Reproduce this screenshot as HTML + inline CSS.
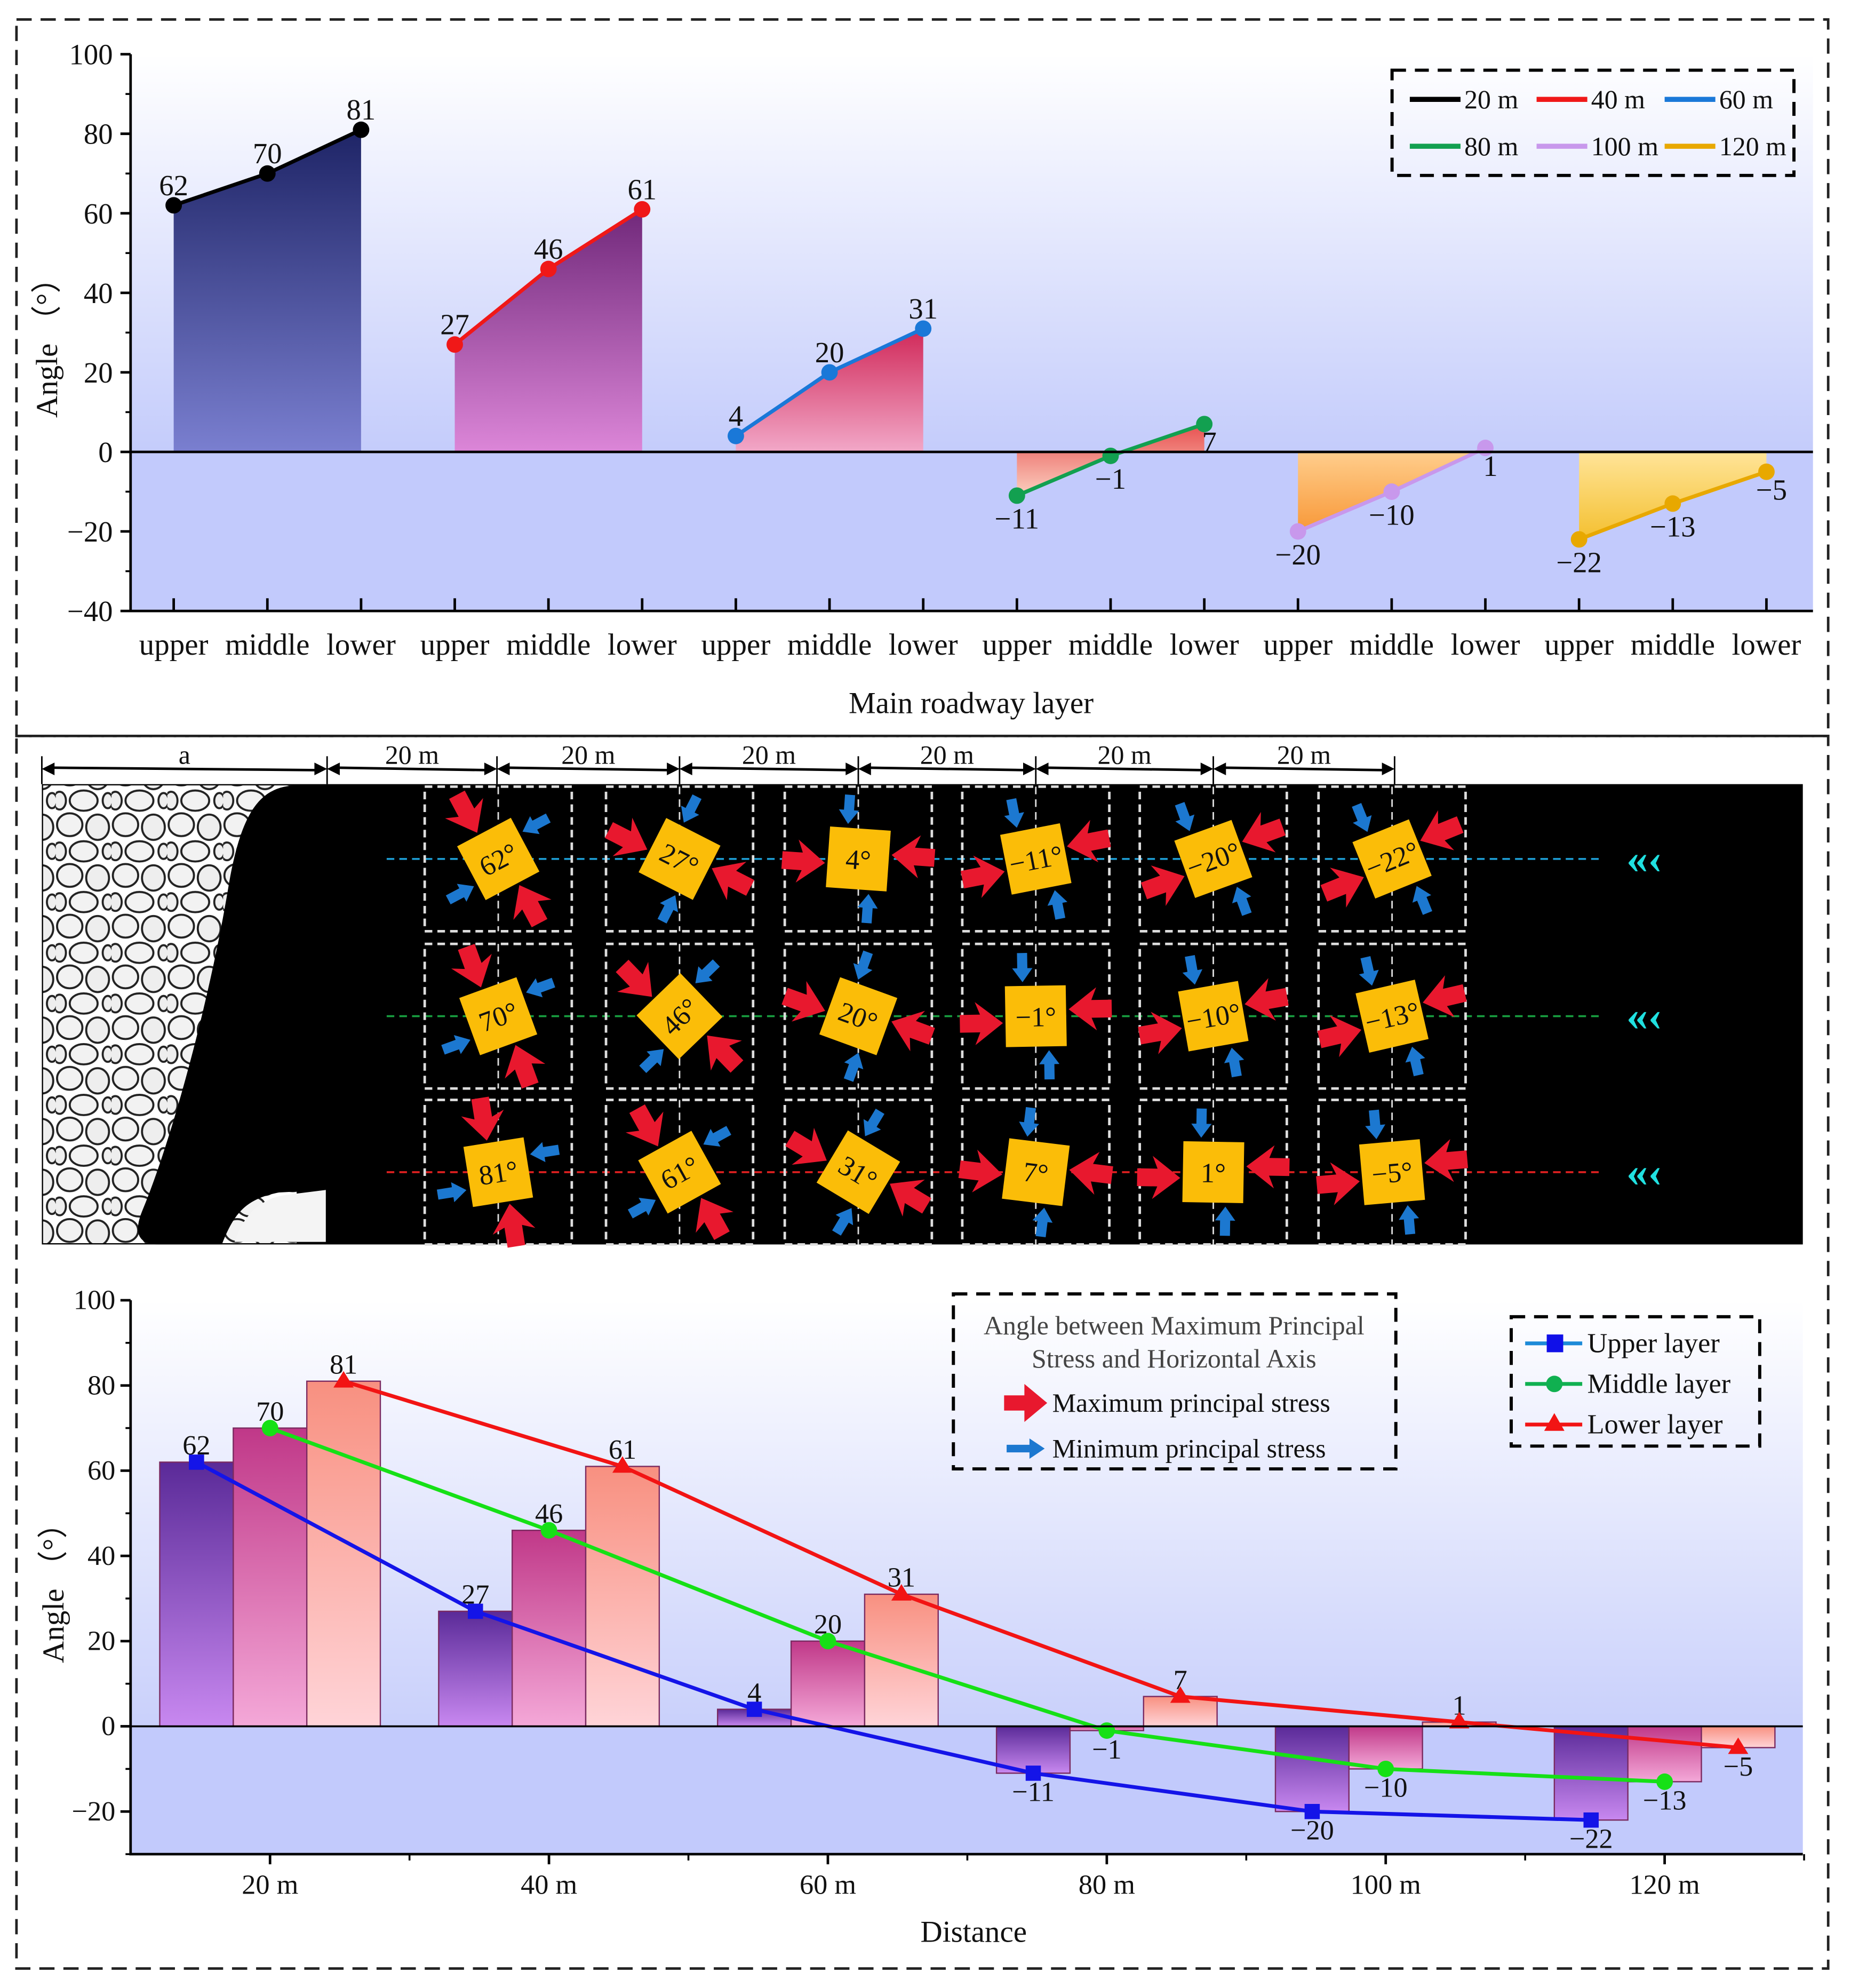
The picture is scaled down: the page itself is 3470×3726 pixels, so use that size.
<!DOCTYPE html>
<html><head><meta charset="utf-8">
<style>
html,body{margin:0;padding:0;background:#fff;}
svg{display:block;}
text{font-family:"Liberation Serif",serif;fill:#111;}
</style></head>
<body>
<svg id="fig" width="3470" height="3726" viewBox="0 0 1460 1567" xmlns="http://www.w3.org/2000/svg" font-family="Liberation Serif, serif">
<defs>
<linearGradient id="bgTop" x1="0" y1="0" x2="0" y2="1"><stop offset="0" stop-color="#ffffff"/><stop offset="1" stop-color="#c4ccfb"/></linearGradient>
<linearGradient id="bgBot" x1="0" y1="0" x2="0" y2="1"><stop offset="0" stop-color="#ffffff"/><stop offset="1" stop-color="#c9d0fb"/></linearGradient>
<linearGradient id="gA0" x1="0" y1="0" x2="0" y2="1"><stop offset="0" stop-color="#1e2466"/><stop offset="1" stop-color="#7a7fd0"/></linearGradient>
<linearGradient id="gA1" x1="0" y1="0" x2="0" y2="1"><stop offset="0" stop-color="#70287a"/><stop offset="1" stop-color="#dc86d8"/></linearGradient>
<linearGradient id="gA2" x1="0" y1="0" x2="0" y2="1"><stop offset="0" stop-color="#d02858"/><stop offset="1" stop-color="#f2a8c8"/></linearGradient>
<linearGradient id="gA3" x1="0" y1="0" x2="0" y2="1"><stop offset="0" stop-color="#e85050"/><stop offset="1" stop-color="#fbd0c0"/></linearGradient>
<linearGradient id="gA4" x1="0" y1="0" x2="0" y2="1"><stop offset="0" stop-color="#ffd090"/><stop offset="1" stop-color="#f89838"/></linearGradient>
<linearGradient id="gA5" x1="0" y1="0" x2="0" y2="1"><stop offset="0" stop-color="#ffe498"/><stop offset="1" stop-color="#f4c030"/></linearGradient>
<linearGradient id="gB0" x1="0" y1="0" x2="0" y2="1"><stop offset="0" stop-color="#5a2a98"/><stop offset="1" stop-color="#c888f0"/></linearGradient>
<linearGradient id="gB1" x1="0" y1="0" x2="0" y2="1"><stop offset="0" stop-color="#c03888"/><stop offset="1" stop-color="#f4a8d8"/></linearGradient>
<linearGradient id="gB2" x1="0" y1="0" x2="0" y2="1"><stop offset="0" stop-color="#f89080"/><stop offset="1" stop-color="#ffd4d8"/></linearGradient>
<pattern id="rubble" width="44" height="40" patternUnits="userSpaceOnUse">
<rect width="44" height="40" fill="#fff"/>
<ellipse cx="11" cy="10" rx="10" ry="9" fill="#f2f2f2" stroke="#222" stroke-width="1.6"/>
<ellipse cx="33" cy="12" rx="9" ry="10" fill="#eeeeee" stroke="#222" stroke-width="1.6"/>
<ellipse cx="22" cy="31" rx="11" ry="8" fill="#f2f2f2" stroke="#222" stroke-width="1.6"/>
<ellipse cx="3" cy="31" rx="5" ry="7" fill="#eeeeee" stroke="#222" stroke-width="1.6"/>
<ellipse cx="41" cy="31" rx="4" ry="6" fill="#eeeeee" stroke="#222" stroke-width="1.6"/>
</pattern>
</defs>

<rect x="13" y="15" width="1429" height="565" fill="none" stroke="#222" stroke-width="2" stroke-dasharray="12,7"/>
<rect x="13" y="580" width="1429" height="972" fill="none" stroke="#222" stroke-width="2" stroke-dasharray="12,7"/>

<g id="top"></g>
<g id="mid"></g>
<g id="bot"></g>
</svg>
<script>
const layers = ["upper","middle","lower"];
const distances = ["20 m","40 m","60 m","80 m","100 m","120 m"];
const upperVals  = [62, 27, 4, -11, -20, -22];
const middleVals = [70, 46, 20, -1, -10, -13];
const lowerVals  = [81, 61, 31, 7, 1, -5];
const topTicks = [100,80,60,40,20,0,-20,-40];
const botTicks = [100,80,60,40,20,0,-20];
const lineColors = ["#000000","#f01818","#1a78d8","#12a050","#c898ec","#e8a800"];

const NS="http://www.w3.org/2000/svg";
function el(parent,tag,attrs,txt){const e=document.createElementNS(NS,tag);for(const k in attrs)e.setAttribute(k,attrs[k]);if(txt!==undefined)e.textContent=txt;parent.appendChild(e);return e;}
const neg=s=>String(s).replace('-','\u2212');

// ---------- top chart ----------
const T=document.getElementById('top');
const tx0=103,tx1=1430,ty=v=>356-v*3.136;
const tX=i=>137+i*73.9;
let r=el(T,'rect',{x:tx0,y:ty(100),width:tx1-tx0,height:ty(0)-ty(100),fill:'url(#bgTop)'});


r=el(T,'rect',{x:tx0,y:ty(0),width:tx1-tx0,height:ty(-40)-ty(0),fill:'#c2cafc'});


for(let g=0;g<6;g++){
  const vals=[upperVals[g],middleVals[g],lowerVals[g]];
  const xs=[tX(g*3),tX(g*3+1),tX(g*3+2)];
  let d=`M${xs[0]},${ty(0)} `+xs.map((x,i)=>`L${x},${ty(vals[i])}`).join(' ')+` L${xs[2]},${ty(0)} Z`;
  const a=el(T,'path',{d:d,fill:`url(#gA${g})`});
  
  
  const l=el(T,'polyline',{points:xs.map((x,i)=>x+','+ty(vals[i])).join(' '),fill:'none',stroke:lineColors[g],'stroke-width':3});
  
  
  const isNeg=Math.min(...vals)<0;
  xs.forEach((x,i)=>{
    const c=el(T,'circle',{cx:x,cy:ty(vals[i]),r:6.5,fill:lineColors[g]});
    
    
    let lx=x,ly=isNeg?ty(vals[i])+26:ty(vals[i])-8;
    if(isNeg&&i==2){lx=x+4;ly=ty(vals[i])+22;}
    const t=el(T,'text',{x:lx,y:ly,'text-anchor':'middle','font-size':23},neg(vals[i]));
    
    
  });
}
let ax=el(T,'line',{x1:tx0,x2:tx1,y1:ty(0),y2:ty(0),stroke:'#000','stroke-width':2});

ax=el(T,'path',{d:`M${tx0},${ty(100)} V${ty(-40)} H${tx1}`,fill:'none',stroke:'#000','stroke-width':2});

topTicks.forEach(v=>{
  el(T,'line',{x1:tx0-8,x2:tx0,y1:ty(v),y2:ty(v),stroke:'#000','stroke-width':2});
  if(v>-40) el(T,'line',{x1:tx0-4,x2:tx0,y1:ty(v-10),y2:ty(v-10),stroke:'#000','stroke-width':1.5});
  const t=el(T,'text',{x:tx0-14,y:ty(v)+8,'text-anchor':'end','font-size':23},neg(v));
  
});
for(let i=0;i<18;i++){
  el(T,'line',{x1:tX(i),x2:tX(i),y1:ty(-40),y2:ty(-40)-10,stroke:'#000','stroke-width':2});
  const t=el(T,'text',{x:tX(i),y:516,'text-anchor':'middle','font-size':24},layers[i%3]);
  
}
let tt=el(T,'text',{x:766,y:562,'text-anchor':'middle','font-size':24},'Main roadway layer');

tt=el(T,'text',{x:45,y:268,'text-anchor':'middle','font-size':24,transform:'rotate(-90 45 268)'},'Angle （°）');

const TL=el(T,'g',{});

el(TL,'rect',{x:1098,y:55,width:317,height:83,fill:'none',stroke:'#000','stroke-width':2.5,'stroke-dasharray':'11,7'});
const legPos=[[1112,78],[1212,78],[1313,78],[1112,115],[1212,115],[1313,115]];
distances.forEach((d,i)=>{
  const [lx,ly]=legPos[i];
  el(TL,'line',{x1:lx,x2:lx+40,y1:ly,y2:ly,stroke:lineColors[i],'stroke-width':4});
  const t=el(TL,'text',{x:lx+43,y:ly+7,'font-size':21},d);
  
});

// ---------- middle diagram ----------
const M=document.getElementById('mid');
r=el(M,'rect',{x:33,y:618,width:1389,height:363,fill:'#000'});

r=el(M,'rect',{x:34,y:619,width:200,height:361,fill:'url(#rubble)'});

r=el(M,'path',{d:'M258,619 L235,619 C205,619 190,640 180,700 C165,790 135,900 112,955 C104,975 112,981 125,981 L175,981 C185,955 195,945 220,940 L258,938 Z',fill:'#000'});

r=el(M,'path',{d:'M185,979 C192,958 205,945 225,942 L257,938 L257,979 Z',fill:'#f4f4f4'});

const dims=[[33,258,'a'],[258,392,'20 m'],[392,536,'20 m'],[536,677,'20 m'],[677,817,'20 m'],[817,957,'20 m'],[957,1100,'20 m']];
dims.forEach(d=>{
  el(M,'line',{x1:d[0]+6,x2:d[1]-6,y1:605,y2:607,stroke:'#000','stroke-width':2});
  el(M,'path',{d:`M${d[0]},606 l10,-5 v10 z M${d[1]},606 l-10,-5 v10 z`,fill:'#000'});
  el(M,'line',{x1:d[1],x2:d[1],y1:596,y2:618,stroke:'#000','stroke-width':1.2});
  const t=el(M,'text',{x:(d[0]+d[1])/2,y:602,'text-anchor':'middle','font-size':21},d[2]);
  
});
el(M,'line',{x1:33,x2:33,y1:596,y2:618,stroke:'#000','stroke-width':1.2});
const colX=[393,536,677,817,957,1098];
const rowY=[677,801,924];
const rowColors=['#1ea0d8','#18a040','#e02020'];
const rowVals=[upperVals,middleVals,lowerVals];
rowY.forEach((y,ri)=>{
  const l=el(M,'line',{x1:305,x2:1265,y1:y,y2:y,stroke:rowColors[ri],'stroke-width':1.5,'stroke-dasharray':'6,4'});
  
  const c=el(M,'text',{x:1297,y:y+11,'text-anchor':'middle','font-size':34,style:'fill:#20e0e0;font-weight:bold'},'«‹');
  
});
colX.forEach((cx,ci)=>{
  rowY.forEach((cy,ri)=>{
    const b=el(M,'rect',{x:cx-58,y:cy-57,width:116,height:114,fill:'none',stroke:'#ddd','stroke-width':2,'stroke-dasharray':'6,4'});
    
    el(M,'line',{x1:cx,x2:cx,y1:cy-57,y2:cy+57,stroke:'#ddd','stroke-width':1.2,'stroke-dasharray':'6,4'});
    const v=rowVals[ri][ci];
    const rot=v-90;
    let sq=((v%90)+90)%90; if(sq>45) sq-=90;
    const g=el(M,'g',{transform:`translate(${cx},${cy}) rotate(${rot})`});
    
    const redD='M-7,-60 L7,-60 L7,-44 L17,-48 L0,-26 L-17,-48 L-7,-44 Z';
    let a=el(g,'path',{d:redD,fill:'#e8182e',transform:'translate(-5,0)'});
    
    a=el(g,'path',{d:redD,fill:'#e8182e',transform:'rotate(180) translate(-5,0)'});
    
    const bluD='M-50,-4 L-38,-4 L-38,-8 L-27,0 L-38,8 L-38,4 L-50,4 Z';
    a=el(g,'path',{d:bluD,fill:'#1c78d0',transform:'translate(0,10)'});
    
    a=el(g,'path',{d:bluD,fill:'#1c78d0',transform:'rotate(180) translate(0,10)'});
    
    const sg=el(M,'g',{transform:`translate(${cx},${cy}) rotate(${sq})`});
    
    el(sg,'rect',{x:-24,y:-24,width:48,height:48,fill:'#fbbd08'});
    const t=el(sg,'text',{x:0,y:8,'text-anchor':'middle','font-size':22},neg(v)+'°');
    
  });
});

// ---------- bottom chart ----------
const B=document.getElementById('bot');
const bx0=103,bx1=1422,by=v=>1361-v*3.36;
const gC=i=>213+i*220;
const barW=58;
r=el(B,'rect',{x:bx0,y:by(100),width:bx1-bx0,height:by(0)-by(100),fill:'url(#bgBot)'});

r=el(B,'rect',{x:bx0,y:by(0),width:bx1-bx0,height:by(-30)-by(0),fill:'#c2cafc'});

const botColors=['#1414e8','#16e016','#f21414'];
rowVals.forEach((vals,li)=>{
  vals.forEach((v,i)=>{
    const cx=gC(i)+(li-1)*barW;
    const y0=Math.min(by(v),by(0)),h=Math.abs(by(v)-by(0));
    const b=el(B,'rect',{x:cx-barW/2,y:y0,width:barW,height:h,fill:`url(#gB${li})`,stroke:'#7a2a60','stroke-width':1});
    
    
    const t=el(B,'text',{x:cx,y:v>=0?by(v)-6:by(v)+22,'text-anchor':'middle','font-size':22},neg(v));
    
  });
});
rowVals.forEach((vals,li)=>{
  const pts=vals.map((v,i)=>[gC(i)+(li-1)*barW,by(v)]);
  const l=el(B,'polyline',{points:pts.map(p=>p.join(',')).join(' '),fill:'none',stroke:botColors[li],'stroke-width':3});
  
  pts.forEach(p=>{
    let m;
    if(li==0) m=el(B,'rect',{x:p[0]-6,y:p[1]-6,width:12,height:12,fill:botColors[0]});
    else if(li==1) m=el(B,'circle',{cx:p[0],cy:p[1],r:6.5,fill:botColors[1]});
    else m=el(B,'path',{d:`M${p[0]},${p[1]-8} l8,13 h-16 z`,fill:botColors[2]});
    
  });
});
ax=el(B,'path',{d:`M${bx0},${by(100)} V${by(-30)} H${bx1}`,fill:'none',stroke:'#000','stroke-width':2});

ax=el(B,'line',{x1:bx0,x2:bx1,y1:by(0),y2:by(0),stroke:'#000','stroke-width':1.5});

botTicks.forEach(v=>{
  el(B,'line',{x1:bx0-8,x2:bx0,y1:by(v),y2:by(v),stroke:'#000','stroke-width':2});
  el(B,'line',{x1:bx0-4,x2:bx0,y1:by(v-10),y2:by(v-10),stroke:'#000','stroke-width':1.5});
  const t=el(B,'text',{x:bx0-12,y:by(v)+7,'text-anchor':'end','font-size':22},neg(v));
  
});
distances.forEach((d,i)=>{
  el(B,'line',{x1:gC(i),x2:gC(i),y1:by(-30),y2:by(-30)+8,stroke:'#000','stroke-width':2});
  el(B,'line',{x1:gC(i)+110,x2:gC(i)+110,y1:by(-30),y2:by(-30)+5,stroke:'#000','stroke-width':1.5});
  const t=el(B,'text',{x:gC(i),y:1493,'text-anchor':'middle','font-size':22},d);
  
});
tt=el(B,'text',{x:768,y:1531,'text-anchor':'middle','font-size':24},'Distance');

tt=el(B,'text',{x:50,y:1250,'text-anchor':'middle','font-size':24,transform:'rotate(-90 50 1250)'},'Angle （°）');

const SL=el(B,'g',{});

el(SL,'rect',{x:752,y:1020,width:349,height:138,fill:'none',stroke:'#000','stroke-width':2.5,'stroke-dasharray':'11,7'});
el(SL,'text',{x:926,y:1052,'text-anchor':'middle','font-size':21,style:'fill:#444'},'Angle between Maximum Principal');
el(SL,'text',{x:926,y:1078,'text-anchor':'middle','font-size':21,style:'fill:#444'},'Stress and Horizontal Axis');
el(SL,'path',{d:'M792,1100 h16 v-9 l18,15 l-18,15 v-9 h-16 z',fill:'#e8182e'});
el(SL,'text',{x:830,y:1113,'font-size':21},'Maximum principal stress');
el(SL,'path',{d:'M794,1139 h18 v-5 l12,8 l-12,8 v-5 h-18 z',fill:'#1c78d0'});
el(SL,'text',{x:830,y:1149,'font-size':21},'Minimum principal stress');
const LL=el(B,'g',{});

el(LL,'rect',{x:1192,y:1038,width:196,height:102,fill:'none',stroke:'#000','stroke-width':2.5,'stroke-dasharray':'11,7'});
const lln=['Upper layer','Middle layer','Lower layer'];
const llc=['#1c8ad8','#10b050','#f21414'];
lln.forEach((n,i)=>{
  const y=1059+i*32;
  el(LL,'line',{x1:1203,x2:1248,y1:y,y2:y,stroke:llc[i],'stroke-width':3});
  if(i==0) el(LL,'rect',{x:1220,y:y-7,width:13,height:14,fill:'#1010e8'});
  else if(i==1) el(LL,'circle',{cx:1226,cy:y,r:6.5,fill:'#10b050'});
  else el(LL,'path',{d:`M1226,${y-9} l8,14 h-16 z`,fill:'#f21414'});
  const t=el(LL,'text',{x:1252,y:y+7,'font-size':22},n);
  
});
</script>
</body></html>
